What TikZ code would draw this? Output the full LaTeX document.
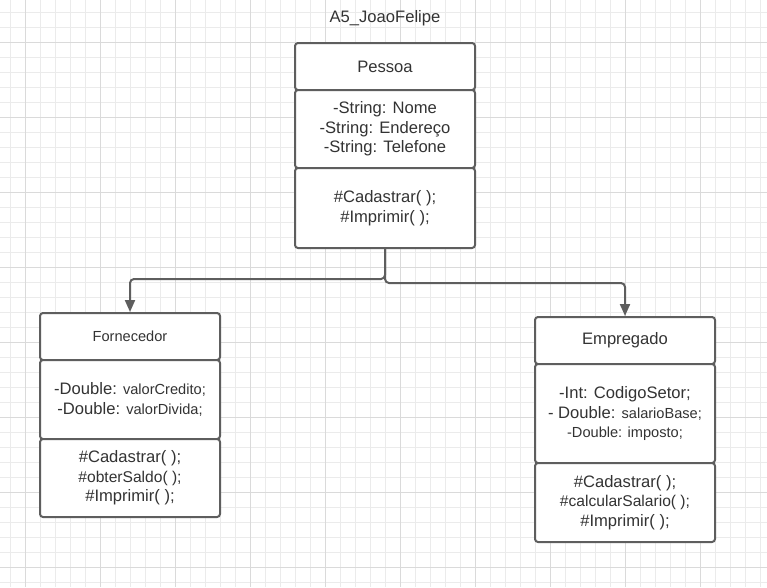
\documentclass[tikz,border=0pt]{standalone}
\usepackage{fontspec}
\setmainfont{Liberation Sans}
\usetikzlibrary{arrows.meta}

\definecolor{gridminor}{HTML}{EBEBEB}
\definecolor{gridmajor}{HTML}{DADADA}
\definecolor{edge}{HTML}{5E5E5E}
\definecolor{ink}{HTML}{333333}

\newcommand{\smtxt}{\fontsize{14.6}{19.6}\selectfont}
\newcommand{\mdtxt}{\fontsize{15.6}{20.4}\selectfont}

\begin{document}
\begin{tikzpicture}[x=1pt,y=-1pt]
\tikzstyle{every node}+=[inner sep=0pt, text=ink, font=\fontsize{16.6}{19.6}\selectfont]
\tikzstyle{part}=[draw=edge, fill=white, line width=2pt, rounded corners=3pt, minimum width=180pt, align=center]
\tikzstyle{conn}=[draw=edge, line width=2pt, rounded corners=4pt, -{Triangle[width=10pt,length=12pt]}]
\useasboundingbox (0,0) rectangle (767,587);
\fill[white] (0,0) rectangle (767,587);
% grid paper
\foreach \gx in {0,...,50} \draw[gridminor, line width=1pt] ({10.7+15*\gx},0) -- ({10.7+15*\gx},587);
\foreach \gy in {0,...,38} \draw[gridminor, line width=1pt] (0,{12.3+15*\gy}) -- (767,{12.3+15*\gy});
\foreach \gx in {0,...,9} \draw[gridmajor, line width=1pt] ({25.7+75*\gx},0) -- ({25.7+75*\gx},587);
\foreach \gy in {0,...,7} \draw[gridmajor, line width=1pt] (0,{42.3+75*\gy}) -- (767,{42.3+75*\gy});
\node (title) at (385,18) {A5\_JoaoFelipe};
% Pessoa
\node[part, minimum height=47pt] (pessoaName) at (385,66.5) {Pessoa};
\node[part, minimum height=78pt] (pessoaAttr) at (385,129) {-String: Nome\\-String: Endereço\\-String: Telefone};
\node[part, minimum height=80pt] (pessoaOps) at (385,208) {\#Cadastrar( );\\\#Imprimir( );};
% Fornecedor
\node[part, minimum height=47pt] (fornName) at (130,336.5) {\smtxt Fornecedor};
\node[part, minimum height=79pt] (fornAttr) at (130,399.5) {-Double: {\smtxt valorCredito;}\\-Double: {\smtxt valorDivida;}};
\node[part, minimum height=78pt] (fornOps) at (130,478) {\#Cadastrar( );\\{\mdtxt\#obterSaldo( );}\\\#Imprimir( );};
% Empregado
\node[part, minimum height=47pt] (empName) at (625,340.5) {Empregado};
\node[part, minimum height=99pt] (empAttr) at (625,413.5) {-Int: CodigoSetor;\\- Double: {\smtxt salarioBase;}\\{\smtxt -Double: imposto;}};
\node[part, minimum height=79pt] (empOps) at (625,502.5) {\#Cadastrar( );\\{\mdtxt\#calcularSalario( );}\\\#Imprimir( );};
% generalizations
\coordinate (forkL) at (385,279);
\coordinate (forkR) at (385,283);
\draw[conn] (pessoaOps.south) -- (forkL) -| (fornName.north);
\draw[conn] (pessoaOps.south) -- (forkR) -| (empName.north);
\end{tikzpicture}
\end{document}
